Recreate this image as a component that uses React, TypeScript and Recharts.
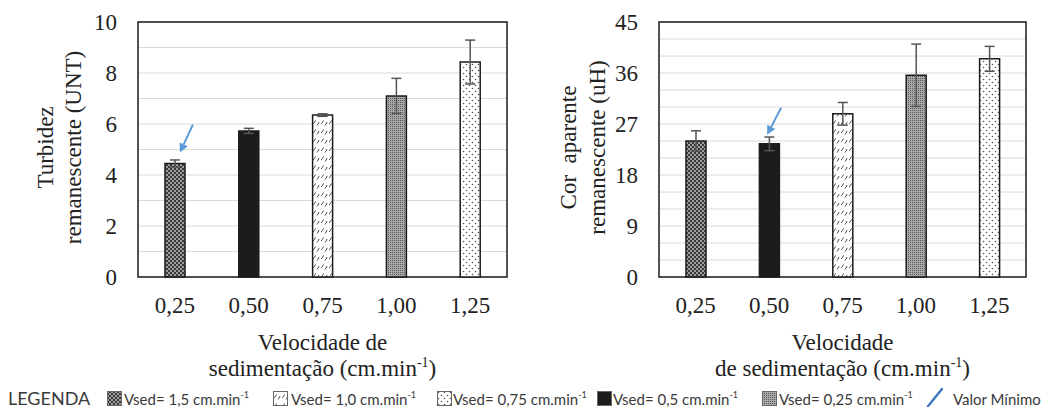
import React from "react";
import { BarChart, Bar, XAxis, YAxis, CartesianGrid, ErrorBar, Cell, ReferenceArea, ReferenceDot } from "recharts";

// Valores
const categorias = ["0,25", "0,50", "0,75", "1,00", "1,25"];
const turbidez = [4.45, 5.73, 6.35, 7.1, 8.43];
const turbidezErro = [0.14, 0.1, 0.05, 0.69, 0.86];
const corAparente = [24.0, 23.5, 28.8, 35.6, 38.5];
const corErro = [1.8, 1.2, 2.0, 5.5, 2.2];
const ticksTurbidez = [0, 1, 2, 3, 4, 5, 6, 7, 8, 9, 10];
const ticksCor = [0, 3, 6, 9, 12, 15, 18, 21, 24, 27, 30, 33, 36, 39, 42, 45];
const legendaItens = ["Vsed= 1,5 cm.min", "Vsed= 1,0 cm.min", "Vsed= 0,75 cm.min", "Vsed= 0,5 cm.min", "Vsed= 0,25 cm.min"];

const SERIF = "'Liberation Serif', serif";
const SANS = "Lato, 'Liberation Sans', sans-serif";
const PRETO = "#1c1c1c";
const AZUL = "#5b9bd5";

// padrões de cada barra (ordem do eixo x) e da legenda
const preenchimentos = ["url(#pCross)", PRETO, "url(#pSlash)", "url(#pGray)", "url(#pDots)"];
const legendaPreench = ["url(#pCross)", "url(#pSlash)", "url(#pDots)", PRETO, "url(#pGray)"];
const legendaPos = [[107, 124], [273, 291], [437, 453], [597, 613], [762, 779]];

const Padroes = () => (
  <svg width={0} height={0} style={{ position: "absolute" }}>
    <defs>
      <pattern id="pCross" width={4} height={4} patternUnits="userSpaceOnUse">
        <rect width={4} height={4} fill="#3a3a3a" />
        <circle cx={1} cy={1} r={0.9} fill="#d0d0d0" />
        <circle cx={3} cy={3} r={0.9} fill="#d0d0d0" />
      </pattern>
      <pattern id="pSlash" width={8} height={9} patternUnits="userSpaceOnUse">
        <rect width={8} height={9} fill="#fff" />
        <path d="M1 7 Q2.5 6 3.5 3.5 M5 8.5 Q6 7.5 7 5" stroke="#333" strokeWidth={0.9} fill="none" />
      </pattern>
      <pattern id="pGray" width={2} height={2} patternUnits="userSpaceOnUse">
        <rect width={2} height={2} fill="#a8a8a8" />
        <rect width={1} height={1} fill="#5a5a5a" />
      </pattern>
      <pattern id="pDots" width={6} height={6} patternUnits="userSpaceOnUse">
        <rect width={6} height={6} fill="#fff" />
        <circle cx={1.5} cy={1.5} r={0.8} fill="#555" />
        <circle cx={4.5} cy={4.5} r={0.8} fill="#555" />
      </pattern>
    </defs>
  </svg>
);

const Seta = ({ cx, cy, off }: any) => {
  const tx = cx + off[0], ty = cy + off[1];
  const px = cx + off[2], py = cy + off[3];
  const dx = px - tx, dy = py - ty;
  const len = Math.sqrt(dx * dx + dy * dy);
  const ux = dx / len, uy = dy / len;
  const bx = px - 9 * ux, by = py - 9 * uy;
  const nx = -uy, ny = ux;
  return (
    <g>
      <line x1={tx} y1={ty} x2={bx} y2={by} stroke={AZUL} strokeWidth={2} />
      <polygon points={`${px},${py} ${bx + 4.5 * nx},${by + 4.5 * ny} ${bx - 4.5 * nx},${by - 4.5 * ny}`} fill={AZUL} />
    </g>
  );
};

const TituloY = ({ viewBox, linhas, xs }: any) => {
  const cy = viewBox.y + viewBox.height / 2 - 2;
  return (
    <g>
      {linhas.map((l: string, i: number) => (
        <text key={i} x={xs[i]} y={cy} transform={`rotate(-90 ${xs[i]} ${cy})`} textAnchor="middle"
          dominantBaseline="central" style={{ whiteSpace: "pre", fontFamily: SERIF, fontSize: 23, fill: "#222" }}>
          {l}
        </text>
      ))}
    </g>
  );
};

const TituloX = ({ viewBox, linha1, linha2 }: any) => {
  const cx = viewBox.x + viewBox.width / 2;
  const y0 = viewBox.y;
  const st = { fontFamily: SERIF, fontSize: 23, fill: "#222" };
  return (
    <g>
      <text x={cx} y={y0 + 73} textAnchor="middle" style={st}>{linha1}</text>
      <text x={cx} y={y0 + 99} textAnchor="middle" style={st}>
        <tspan>{linha2}</tspan>
        <tspan dy={-9} style={{ fontSize: 14 }}>-1</tspan>
        <tspan dy={9}>)</tspan>
      </text>
    </g>
  );
};

function Painel({ valores, erros, ticks, passo, maximo, tituloY, xsTitulo, linha1, linha2, width, yWidth, right, seta }: any) {
  const dados = categorias.map((c, i) => ({ cat: c, v: valores[i], err: erros[i] }));
  const iMin = valores.indexOf(Math.min(...valores));
  return (
    <BarChart width={width} height={385} data={dados} margin={{ top: 22, right, bottom: 0, left: 0 }}>
      <CartesianGrid vertical={false} stroke="#dadada" strokeWidth={1} />
      <XAxis dataKey="cat" interval={0} axisLine={false} tickLine={false} tickSize={0} tickMargin={20} height={108}
        tick={{ fontFamily: SERIF, fontSize: 23, fill: "#222" }}
        label={{ content: (p: any) => <TituloX viewBox={p.viewBox} linha1={linha1} linha2={linha2} /> }} />
      <YAxis domain={[0, maximo]} ticks={ticks} interval={0} width={yWidth} axisLine={false} tickLine={false}
        tickSize={0} tickMargin={21} tickFormatter={(v: number) => (v % passo === 0 ? String(v) : "")}
        tick={{ fontFamily: SERIF, fontSize: 23, fill: "#222" }}
        label={{ content: (p: any) => <TituloY viewBox={p.viewBox} linhas={tituloY} xs={xsTitulo} /> }} />
      <Bar dataKey="v" barSize={20} stroke={PRETO} strokeWidth={1.5} isAnimationActive={false}>
        {dados.map((d, i) => (
          <Cell key={d.cat} fill={preenchimentos[i]} />
        ))}
        <ErrorBar dataKey="err" width={5} stroke="#555" strokeWidth={1.5} isAnimationActive={false} />
      </Bar>
      <ReferenceArea y1={0} y2={maximo} fill="none" fillOpacity={0} stroke={PRETO} strokeWidth={1.5} ifOverflow="visible" />
      <ReferenceDot x={categorias[iMin]} y={valores[iMin]} r={0} shape={(p: any) => <Seta cx={p.cx} cy={p.cy} off={seta} />} />
    </BarChart>
  );
}

export default function App() {
  return (
    <div style={{ position: "absolute", left: 0, top: 0, width: 1046, height: 416, background: "#fff", overflow: "hidden" }}>
      <Padroes />
      <div style={{ position: "absolute", left: 0, top: 0 }}>
        <Painel valores={turbidez} erros={turbidezErro} ticks={ticksTurbidez} passo={2} maximo={10}
          tituloY={["Turbidez", "remanescente (UNT)"]} xsTitulo={[45, 73]}
          linha1="Velocidade de" linha2="sedimentação (cm.min"
          width={520} yWidth={138} right={13} seta={[18, -39, 5, -11]} />
      </div>
      <div style={{ position: "absolute", left: 520, top: 0 }}>
        <Painel valores={corAparente} erros={corErro} ticks={ticksCor} passo={9} maximo={45}
          tituloY={["Cor  aparente", "remanescente (uH)"]} xsTitulo={[48, 77]}
          linha1="Velocidade" linha2="de sedimentação (cm.min"
          width={526} yWidth={139} right={20} seta={[12, -36, -2, -9]} />
      </div>
      <div style={{ position: "absolute", left: 0, top: 387, width: 1046, height: 24, fontFamily: SANS, color: "#3a3a3a" }}>
        <span style={{ position: "absolute", left: 8, top: 0, fontSize: 18, lineHeight: "22px" }}>LEGENDA</span>
        {legendaItens.map((t, i) => (
          <React.Fragment key={t}>
            <svg width={15} height={15} style={{ position: "absolute", left: legendaPos[i][0], top: 4 }}>
              <rect x={0.5} y={0.5} width={14} height={14} fill={legendaPreench[i]} stroke="#666" strokeWidth={1} />
            </svg>
            <span style={{ position: "absolute", left: legendaPos[i][1], top: 1, fontSize: 15, lineHeight: "22px", whiteSpace: "nowrap" }}>
              {t}<sup style={{ fontSize: 9, verticalAlign: "top", lineHeight: "14px" }}>-1</sup>
            </span>
          </React.Fragment>
        ))}
        <svg width={20} height={22} style={{ position: "absolute", left: 925, top: 0 }}>
          <path d="M3 19 L5 17 M4 18 L17 2" stroke="#3f78c0" strokeWidth={2.4} strokeLinecap="round" fill="none" />
        </svg>
        <span style={{ position: "absolute", left: 953, top: 1, fontSize: 15, lineHeight: "22px", whiteSpace: "nowrap" }}>Valor Mínimo</span>
      </div>
    </div>
  );
}
